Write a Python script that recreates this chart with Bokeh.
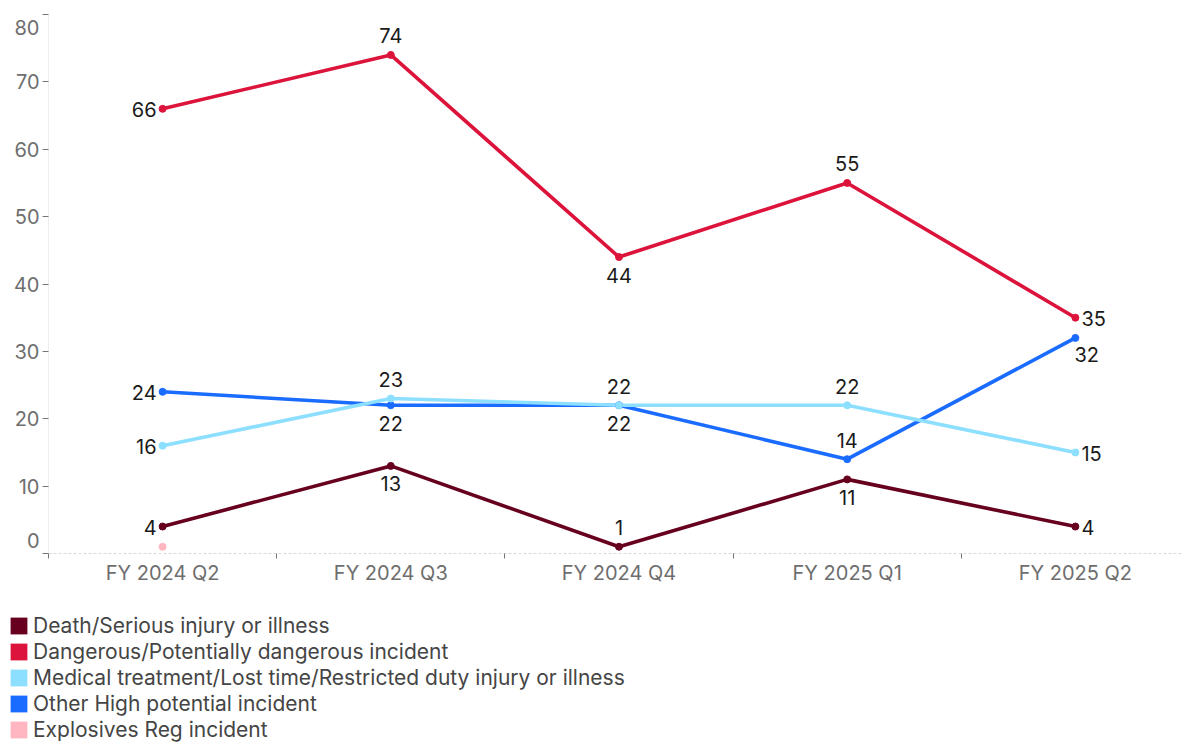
from bokeh.plotting import figure
from bokeh.layouts import column
from bokeh.models import ColumnDataSource, FixedTicker, Legend, LegendItem, Range1d, LinearAxis
from bokeh.embed import file_html
from bokeh.resources import INLINE
from bokeh.core.properties import value

# Incident counts per quarter
quarters = ["FY 2024 Q2", "FY 2024 Q3", "FY 2024 Q4", "FY 2025 Q1", "FY 2025 Q2"]
death_serious = [4, 13, 1, 11, 4]
dangerous = [66, 74, 44, 55, 35]
medical_lost_time = [16, 23, 22, 22, 15]
other_high_potential = [24, 22, 22, 14, 32]
explosives_reg = [1, None, None, None, None]
y_ticks = [0, 10, 20, 30, 40, 50, 60, 70, 80]

series = [
    ("Death/Serious injury or illness", death_serious, "#67001f",
     ["left", "below", "above", "below", "right"]),
    ("Dangerous/Potentially dangerous incident", dangerous, "#dc143c",
     ["left", "above", "below", "above", "right"]),
    ("Other High potential incident", other_high_potential, "#1a6bff",
     ["left", "below", "below", "above", "below_right"]),
    ("Medical treatment/Lost time/Restricted duty injury or illness", medical_lost_time, "#8ddfff",
     ["left", "above", "above", "above", "right"]),
]
legend_order = [
    ("Death/Serious injury or illness", "#67001f"),
    ("Dangerous/Potentially dangerous incident", "#dc143c"),
    ("Medical treatment/Lost time/Restricted duty injury or illness", "#8ddfff"),
    ("Other High potential incident", "#1a6bff"),
    ("Explosives Reg incident", "#ffb6c1"),
]

# label placement -> (align, baseline, x_offset, y_offset)
placement = {
    "left": ("right", "middle", -6, 1),
    "right": ("left", "middle", 6, 1),
    "above": ("center", "middle", 0, -19),
    "below": ("center", "middle", 0, 18),
    "below_right": ("left", "middle", -1, 17),
}

UI_FONT = "Inter"
Y_MIN, Y_MAX = 0, 80

p = figure(width=1181, height=600, output_backend="svg", toolbar_location=None,
           x_range=Range1d(-0.5, 4.465), y_range=Range1d(Y_MIN, Y_MAX),
           min_border_left=48, min_border_right=0, min_border_top=14, min_border_bottom=47)
p.outline_line_color = None
p.grid.visible = False
p.background_fill_color = "white"

xs = list(range(len(quarters)))

for name, vals, color, places in series:
    src = ColumnDataSource(dict(x=xs, y=vals))
    p.line("x", "y", source=src, line_color=color, line_width=3.6)

for name, vals, color, places in series:
    src = ColumnDataSource(dict(x=xs, y=vals))
    p.scatter("x", "y", source=src, size=7, fill_color=color, line_color=color)
    for key in placement:
        idx = [i for i, pl in enumerate(places) if pl == key]
        if not idx:
            continue
        align, base, dx, dy = placement[key]
        lsrc = ColumnDataSource(dict(x=[xs[i] for i in idx], y=[vals[i] for i in idx],
                                     t=[str(vals[i]) for i in idx]))
        p.text("x", "y", text="t", source=lsrc, text_align=align, text_baseline=base,
               x_offset=dx, y_offset=dy, text_font=value(UI_FONT), text_font_size="20px",
               text_color="#1a1a1a")

# single explosives reading
ex_x = [x for x, v in zip(xs, explosives_reg) if v is not None]
ex_y = [v for v in explosives_reg if v is not None]
p.scatter(ex_x, ex_y, size=7, fill_color="#ffb6c1", line_color="#ffb6c1")

# x axis: labels at quarter centres, short ticks between quarters
p.xaxis.ticker = FixedTicker(ticks=xs, minor_ticks=[i - 0.5 for i in xs])
p.xaxis.major_label_overrides = {i: q for i, q in enumerate(quarters)}
p.xaxis.major_tick_out = 0
p.xaxis.major_tick_in = 0
p.xaxis.minor_tick_out = 5
p.xaxis.minor_tick_in = 0
p.xaxis.minor_tick_line_color = "#777777"
p.xaxis.axis_line_color = "#d9d9d9"
p.xaxis.axis_line_dash = "3 2"
p.xaxis.major_label_text_font = UI_FONT
p.xaxis.major_label_text_font_size = "20px"
p.xaxis.major_label_text_color = "#6e6e6e"
p.xaxis.major_label_standoff = 2

# y axis: tick marks only next to the frame
p.yaxis.ticker = FixedTicker(ticks=y_ticks, minor_ticks=[])
p.yaxis.major_tick_out = 6
p.yaxis.major_tick_in = 0
p.yaxis.major_tick_line_color = "#777777"
p.yaxis.axis_line_color = "#eeeeee"
p.yaxis.major_label_overrides = {t: "" for t in y_ticks}
p.yaxis.major_label_standoff = 0

# y labels, with the end labels nudged inside the plot height
label_pos = {t: t for t in y_ticks}
label_pos[Y_MAX] = Y_MAX - 2
label_pos[Y_MIN] = Y_MIN + 2
ylab = LinearAxis(ticker=FixedTicker(ticks=[label_pos[t] for t in y_ticks], minor_ticks=[]),
                  major_label_overrides={label_pos[t]: str(t) for t in y_ticks},
                  major_tick_out=0, major_tick_in=0, axis_line_color=None,
                  major_label_text_font=UI_FONT, major_label_text_font_size="20px",
                  major_label_text_color="#6e6e6e", major_label_standoff=3)
p.add_layout(ylab, "left")

# legend strip under the chart
lg = figure(width=1181, height=142, output_backend="svg", toolbar_location=None,
            x_range=Range1d(0, 1), y_range=Range1d(0, 1),
            x_axis_location=None, y_axis_location=None,
            min_border_left=8, min_border_right=0, min_border_top=13, min_border_bottom=0)
lg.grid.visible = False
lg.outline_line_color = None

items = []
for name, color in legend_order:
    # swatch renderer kept outside the visible range; only its legend glyph shows
    r = lg.quad(left=[-3], right=[-2], top=[-2], bottom=[-3], fill_color=color, line_color=None)
    items.append(LegendItem(label=name, renderers=[r]))

legend = Legend(items=items, location="top_left", orientation="vertical",
                glyph_width=21, glyph_height=21, label_standoff=4, spacing=1,
                padding=0, margin=0, border_line_color=None, background_fill_alpha=0,
                label_text_font=UI_FONT, label_text_font_size="21px",
                label_text_color="#454545", label_height=21)
lg.add_layout(legend, "center")

layout = column(p, column(lg, spacing=0), spacing=0)
open("out.html", "w").write(file_html(layout, INLINE))
